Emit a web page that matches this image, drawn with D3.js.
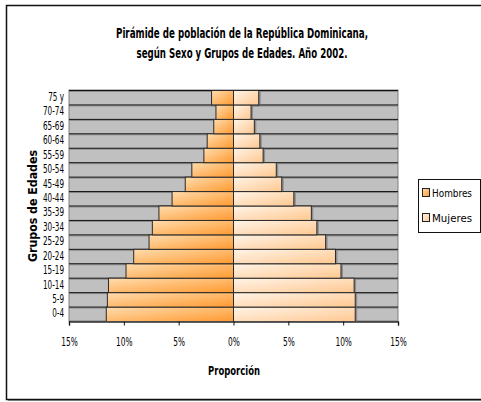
<!DOCTYPE html>
<html>
<head>
<meta charset="utf-8">
<script src="https://cdn.jsdelivr.net/npm/d3@7"></script>
<style>
  body { margin: 0; background: #fff; }
  svg { display: block; }
  text { font-family: "Liberation Sans Narrow", "DejaVu Sans Condensed", sans-serif; fill: #000; }
</style>
</head>
<body>
<div id="chart"></div>
<script>
// age groups, bottom to top
const ages = ["0-4", "5-9", "10-14", "15-19", "20-24", "25-29", "30-34", "35-39",
              "40-44", "45-49", "50-54", "55-59", "60-64", "65-69", "70-74", "75 y"];
// share of population (%)
const hombres = [11.6, 11.5, 11.4, 9.8, 9.1, 7.7, 7.4, 6.8, 5.6, 4.4, 3.8, 2.7, 2.4, 1.8, 1.6, 2.0];
const mujeres = [11.1, 11.1, 11.0, 9.8, 9.3, 8.4, 7.6, 7.1, 5.5, 4.4, 3.9, 2.7, 2.4, 1.9, 1.6, 2.3];
const ticks = [-15, -10, -5, 0, 5, 10, 15];
const series = ["Hombres", "Mujeres"];

// squeeze text horizontally (the original font is a narrow one)
function squeeze(sel, k) {
    sel.each(function () {
        let t = d3.select(this);
        let x0 = +(t.attr("x") || 0);
        t.attr("x", x0 / k).attr("transform", "scale(" + k + ",1)");
    });
}

function setupChart() {
    const width = 481
    const height = 402
    const plot = {left: 69, right: 398, top: 90, bottom: 321}

    let svg = d3.select("#chart")
        .append("svg")
        .attr("width", width)
        .attr("height", height);

    let defs = svg.append("defs");
    // bar gradients
    let gradH = defs.append("linearGradient").attr("id", "gH")
        .attr("x1", 0).attr("y1", 0).attr("x2", 1).attr("y2", 1);
    gradH.append("stop").attr("offset", "0%").attr("stop-color", "#ffdcae");
    gradH.append("stop").attr("offset", "100%").attr("stop-color", "#ff9a30");
    let gradM = defs.append("linearGradient").attr("id", "gM")
        .attr("x1", 0).attr("y1", 0).attr("x2", 1).attr("y2", 1);
    gradM.append("stop").attr("offset", "0%").attr("stop-color", "#fff4e8");
    gradM.append("stop").attr("offset", "100%").attr("stop-color", "#ffc890");

    // chart area border (right side runs off the picture)
    svg.append("rect")
        .attr("x", 8).attr("y", 7).attr("width", 480).attr("height", 394)
        .attr("fill", "#9a9a9a");
    svg.append("rect")
        .attr("x", 6.5).attr("y", 5.5).attr("width", 480).attr("height", 394)
        .attr("fill", "#fff").attr("stroke", "#111").attr("stroke-width", 1.5);

    let x = d3.scaleLinear().domain([-15, 15]).range([plot.left, plot.right]);
    let y = d3.scaleBand().domain(ages).range([plot.bottom, plot.top]).padding(0);

    // plot area
    svg.append("rect")
        .attr("x", plot.left).attr("y", plot.top)
        .attr("width", plot.right - plot.left).attr("height", plot.bottom - plot.top)
        .attr("fill", "#c0c0c0").attr("stroke", "#808080");

    // gridlines on band edges, with a soft shadow line below
    let edges = ages.map(a => y(a)).concat([plot.bottom]);
    svg.selectAll("gridShadow").data(edges).enter().append("line")
        .attr("x1", plot.left).attr("x2", plot.right)
        .attr("y1", d => d + 1.5).attr("y2", d => d + 1.5)
        .attr("stroke", "#8a8a8a").attr("stroke-width", 1);
    svg.selectAll("grid").data(edges).enter().append("line")
        .attr("x1", plot.left).attr("x2", plot.right)
        .attr("y1", d => d + 0.5).attr("y2", d => d + 0.5)
        .attr("stroke", "#111").attr("stroke-width", 1);

    let rows = ages.map((a, i) => ({age: a, h: hombres[i], m: mujeres[i]}));

    // bar shadows
    svg.selectAll("shadowH").data(rows).enter().append("rect")
        .attr("x", d => x(-d.h) + 2).attr("y", d => y(d.age) + 2)
        .attr("width", d => x(0) - x(-d.h)).attr("height", y.bandwidth())
        .attr("fill", "#6e6e6e").attr("opacity", 0.6);
    svg.selectAll("shadowM").data(rows).enter().append("rect")
        .attr("x", x(0) + 2).attr("y", d => y(d.age) + 2)
        .attr("width", d => x(d.m) - x(0)).attr("height", y.bandwidth())
        .attr("fill", "#6e6e6e").attr("opacity", 0.6);

    // bars
    svg.selectAll("barsH").data(rows).enter().append("rect")
        .attr("x", d => x(-d.h)).attr("y", d => y(d.age) + 0.5)
        .attr("width", d => x(0) - x(-d.h)).attr("height", y.bandwidth())
        .attr("fill", "url(#gH)").attr("stroke", "#2a2a2a").attr("stroke-width", 1);
    svg.selectAll("barsM").data(rows).enter().append("rect")
        .attr("x", x(0)).attr("y", d => y(d.age) + 0.5)
        .attr("width", d => x(d.m) - x(0)).attr("height", y.bandwidth())
        .attr("fill", "url(#gM)").attr("stroke", "#2a2a2a").attr("stroke-width", 1);

    // x axis
    let xAxis = d3.axisBottom(x).tickValues(ticks).tickSize(4).tickPadding(12)
        .tickFormat(d => Math.abs(d) + "%");
    let gx = svg.append("g").attr("transform", "translate(0," + (plot.bottom + 0.5) + ")").call(xAxis);
    gx.select(".domain").attr("stroke", "#555").attr("stroke-width", 1.5);
    gx.selectAll(".tick line").attr("stroke", "#111");
    gx.selectAll(".tick text").style("font-size", "11.5px");
    squeeze(gx.selectAll(".tick text"), 0.72);

    // y axis labels
    let yAxis = d3.axisLeft(y).tickSize(0).tickPadding(5);
    let gy = svg.append("g").attr("transform", "translate(" + plot.left + ",0)").call(yAxis);
    gy.select(".domain").remove();
    gy.selectAll(".tick text").style("font-size", "11.5px");
    squeeze(gy.selectAll(".tick text"), 0.7);

    // titles
    svg.append("text").attr("x", 242).attr("y", 38).attr("text-anchor", "middle")
        .attr("textLength", 252).attr("lengthAdjust", "spacingAndGlyphs")
        .style("font-size", "14px").style("font-weight", "bold")
        .text("Pirámide de población de la República Dominicana,");
    svg.append("text").attr("x", 242).attr("y", 58).attr("text-anchor", "middle")
        .attr("textLength", 211).attr("lengthAdjust", "spacingAndGlyphs")
        .style("font-size", "14px").style("font-weight", "bold")
        .text("según Sexo y Grupos de Edades. Año 2002.");
    svg.append("text").attr("x", 234).attr("y", 375).attr("text-anchor", "middle")
        .attr("textLength", 52).attr("lengthAdjust", "spacingAndGlyphs")
        .style("font-size", "13px").style("font-weight", "bold")
        .text("Proporción");
    svg.append("text")
        .attr("transform", "translate(37,206) rotate(-90)")
        .attr("text-anchor", "middle")
        .attr("textLength", 112).attr("lengthAdjust", "spacingAndGlyphs")
        .style("font-size", "13px").style("font-weight", "bold")
        .text("Grupos de Edades");

    // legend
    let lg = svg.append("g").attr("transform", "translate(418,179)");
    lg.append("rect").attr("x", 0.5).attr("y", 0.5).attr("width", 62).attr("height", 53)
        .attr("fill", "#fff").attr("stroke", "#111");
    let fills = ["url(#gH)", "url(#gM)"];
    let items = lg.selectAll("legendItems").data(series).enter().append("g")
        .attr("transform", (d, i) => "translate(4," + (14 + i * 25) + ")");
    items.append("rect").attr("x", 0.5).attr("y", -4.5).attr("width", 7).attr("height", 8)
        .attr("fill", (d, i) => fills[i]).attr("stroke", "#222");
    items.append("text").attr("x", 10).attr("y", 4)
        .attr("textLength", 40).attr("lengthAdjust", "spacingAndGlyphs")
        .style("font-size", "11px")
        .text(d => d);

    console.log(`[] chart created`);
}

setupChart();
</script>
</body>
</html>
